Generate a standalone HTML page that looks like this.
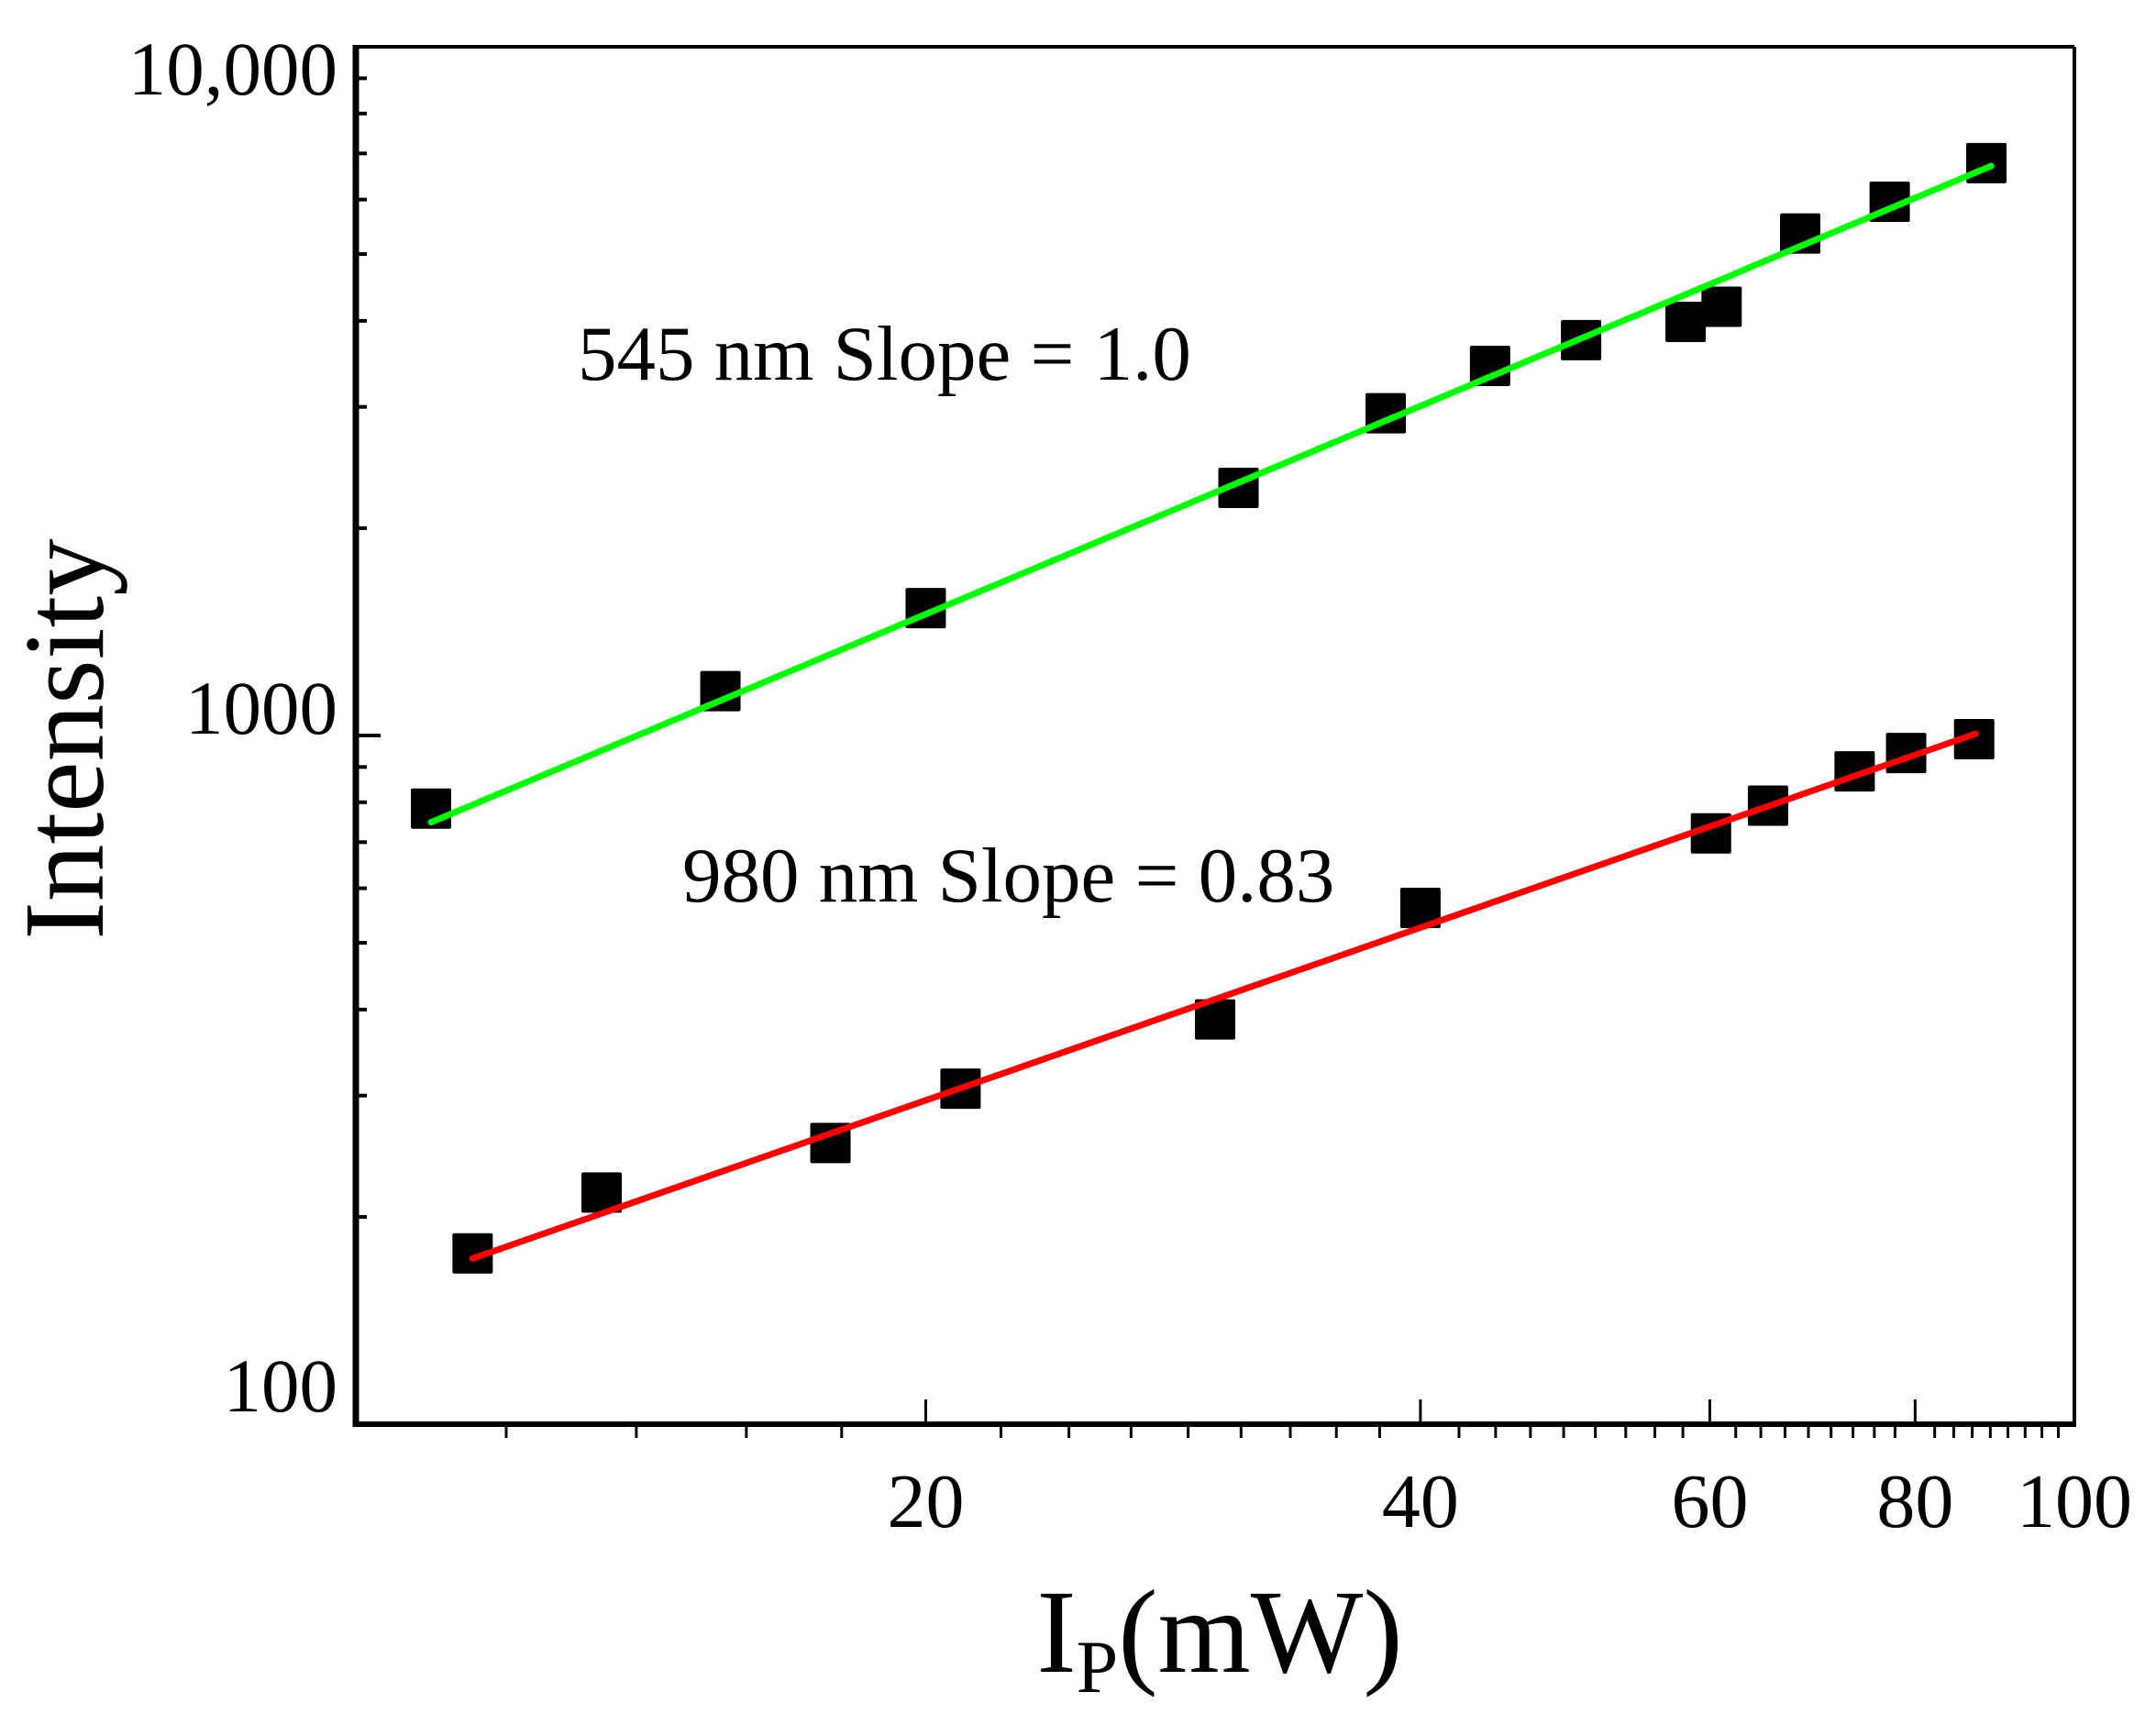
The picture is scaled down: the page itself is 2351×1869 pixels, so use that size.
<!DOCTYPE html>
<html><head><meta charset="utf-8">
<style>
html,body{margin:0;padding:0;background:#fff;}
svg{display:block;}
text{font-family:"Liberation Serif",serif;fill:#000;}
</style></head>
<body>
<svg id="chart" width="2351" height="1869" viewBox="0 0 2351 1869" xmlns="http://www.w3.org/2000/svg">
  <g id="grid-layer"></g>
  <g id="series-layer"></g>
  <g id="axis-box"></g>
  <text transform="translate(112,806) rotate(-90)" text-anchor="middle" font-size="125">Intensity</text>
  <text x="1330" y="1823" text-anchor="middle" font-size="130">I<tspan font-size="82" dy="22">P</tspan><tspan dy="-22">(mW)</tspan></text>
  <text x="630" y="414" font-size="85">545 nm Slope = 1.0</text>
  <text x="744" y="983" font-size="85">980 nm Slope = 0.83</text>
</svg>
<script>
// ---- data ----
const greenX = [10.0, 15.0, 20.0, 31.0, 38.1, 44.1, 50.1, 58.0, 61.0, 68.1, 77.2, 88.4];
const greenY = [783, 1160, 1531, 2288, 2937, 3440, 3751, 3986, 4193, 5356, 5957, 6778];
const redX = [10.6, 12.7, 17.5, 21.0, 30.0, 40.0, 60.1, 65.1, 73.5, 79.0, 86.9];
const redY = [177, 217, 256, 307, 387, 562, 721, 791, 887, 943, 988];
const greenFitX = [10.0, 89.0];
const greenFitY = [748, 6714];
const redFitX = [10.6, 87.1];
const redFitY = [174, 1006];
const xMajorTicks = [20, 40, 60, 80, 100];
const xTickLabels = ["20", "40", "60", "80", "100"];
const yMajorTicks = [100, 1000, 10000];
const yTickLabels = ["100", "1000", "10,000"];

// ---- axes ----
const L = 388, R = 2262, T = 51, B = 1553;
const xMin = 9, xMax = 100, yMin = 100, yMax = 10000;
const sx = v => L + (Math.log10(v) - Math.log10(xMin)) / (Math.log10(xMax) - Math.log10(xMin)) * (R - L);
const sy = v => B - (Math.log10(v) - Math.log10(yMin)) / (Math.log10(yMax) - Math.log10(yMin)) * (B - T);
const NS = "http://www.w3.org/2000/svg";
function mk(tag, attrs, parent) {
  const e = document.createElementNS(NS, tag);
  for (const k in attrs) e.setAttribute(k, attrs[k]);
  parent.appendChild(e);
  return e;
}
const gA = document.getElementById('grid-layer');
const gS = document.getElementById('series-layer');
const gB = document.getElementById('axis-box');

let fr = mk('line', {x1: L, y1: T, x2: R, y2: T, stroke: '#000', 'stroke-width': 4}, gB);


fr = mk('line', {x1: R, y1: T, x2: R, y2: B, stroke: '#000', 'stroke-width': 4}, gB);


fr = mk('line', {x1: L - 2, y1: B, x2: R + 2, y2: B, stroke: '#000', 'stroke-width': 6}, gB);


fr = mk('line', {x1: L, y1: T - 2, x2: L, y2: B + 3, stroke: '#000', 'stroke-width': 7}, gB);



xMajorTicks.forEach((v, i) => {
  const x = sx(v);
  if (v < xMax) {
    const t = mk('line', {x1: x, y1: B, x2: x, y2: B - 27, stroke: '#000', 'stroke-width': 3}, gA);
    
    
  }
  const lb = mk('text', {x: x, y: 1665, 'text-anchor': 'middle', 'font-size': 84}, gA);
  lb.textContent = xTickLabels[i];
  
  
});
const step = 20 / 9;
const minorX = [];
for (let k = 1; k <= 4; k++) minorX.push(20 - k * step);
[20, 40, 60, 80].forEach(m => { for (let k = 1; k <= 8; k++) minorX.push(m + k * step); });
minorX.forEach(v => {
  const x = sx(v);
  const t = mk('line', {x1: x, y1: B, x2: x, y2: B + 15, stroke: '#000', 'stroke-width': 3}, gA);
  
  
});

const yLabelOffset = {100: -14, 1000: -2, 10000: 52};
yMajorTicks.forEach((v, i) => {
  const y = sy(v);
  if (v === 1000) {
    const t = mk('line', {x1: L, y1: y, x2: L + 27, y2: y, stroke: '#000', 'stroke-width': 4}, gA);
    
    
  }
  const lb = mk('text', {x: 368, y: y + yLabelOffset[v], 'text-anchor': 'end', 'font-size': 83}, gA);
  lb.textContent = yTickLabels[i];
  
  
});
[100, 1000].forEach(d => {
  for (let k = 2; k <= 9; k++) {
    const y = sy(d * k);
    const t = mk('line', {x1: L, y1: y, x2: L + 12, y2: y, stroke: '#000', 'stroke-width': 4}, gA);
    
    
  }
});

const gl = mk('line', {x1: sx(greenFitX[0]), y1: sy(greenFitY[0]), x2: sx(greenFitX[1]), y2: sy(greenFitY[1]), stroke: '#00ff00', 'stroke-width': 7, 'stroke-linecap': 'round'}, gS);


const rl = mk('line', {x1: sx(redFitX[0]), y1: sy(redFitY[0]), x2: sx(redFitX[1]), y2: sy(redFitY[1]), stroke: '#ff0000', 'stroke-width': 7, 'stroke-linecap': 'round'}, gS);



const S = 44;
greenX.forEach((v, i) => {
  const p = mk('rect', {x: sx(v) - S / 2, y: sy(greenY[i]) - S / 2, width: S, height: S, rx: 2, fill: '#000'}, gS);
  
  
});
redX.forEach((v, i) => {
  const p = mk('rect', {x: sx(v) - S / 2, y: sy(redY[i]) - S / 2, width: S, height: S, rx: 2, fill: '#000'}, gS);
  
  
});
gS.appendChild(gl);
gS.appendChild(rl);
</script>
</body></html>
